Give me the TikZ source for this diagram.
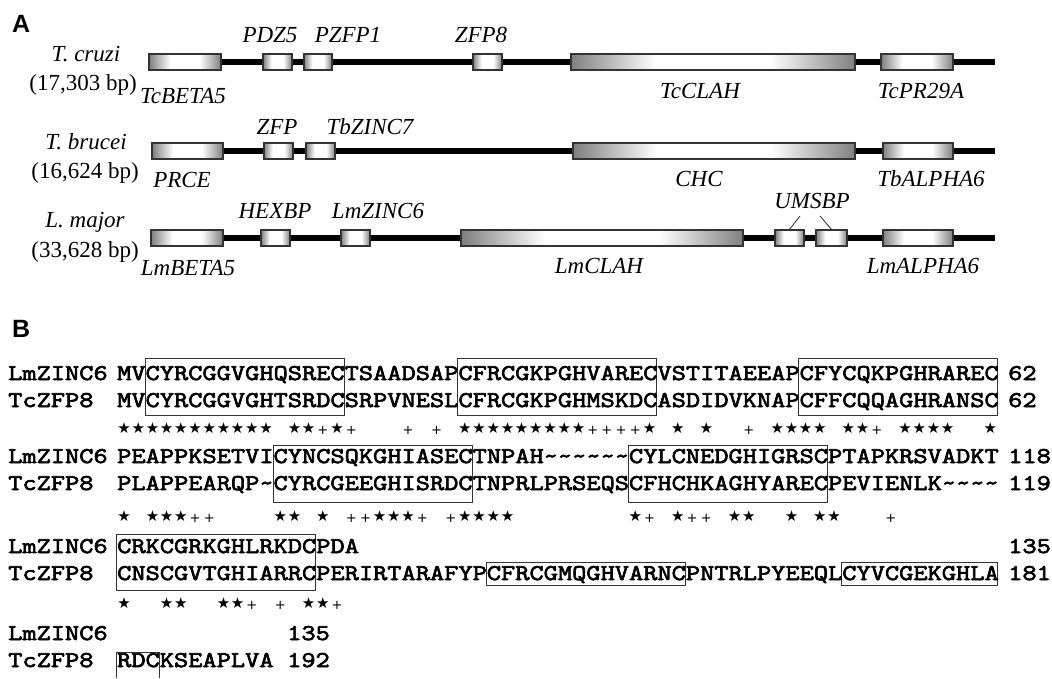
\documentclass[tikz,border=0pt]{standalone}
\usepackage{fontspec}
\setmainfont{Liberation Serif}
\newfontfamily\seqfont[FakeStretch=1.227,FakeBold=3]{Latin Modern Mono}
\newfontfamily\headfont{Liberation Sans}
\newfontfamily\symfont{DejaVu Sans}
\newcommand\tld{\textasciitilde}
\pgfdeclarehorizontalshading{genesh}{100bp}{color(0bp)=(black!50); color(25bp)=(black!50); color(40bp)=(white); color(60bp)=(white); color(75bp)=(black!50); color(100bp)=(black!50)}
\begin{document}
\begin{tikzpicture}[x=1pt,y=-1pt,
  gene/.style={draw=black!80, line width=1.1pt, shading=genesh, minimum height=16pt, inner sep=0pt},
  backbone/.style={line width=5.5pt, black},
  glabel/.style={font=\fontsize{23}{23}\selectfont\itshape, anchor=base, inner sep=0pt},
  orglabel/.style={font=\fontsize{23}{23}\selectfont, anchor=base, inner sep=0pt},
  seq/.style={font=\fontsize{22.5}{24}\seqfont, anchor=base west, inner sep=0pt},
  motif/.style={draw=black!80, line width=1pt},
  cons/.style={font=\fontsize{15}{15}\symfont, anchor=base, inner sep=0pt},
  plus/.style={font=\fontsize{13}{13}\symfont, anchor=base, inner sep=0pt},
  panel/.style={font=\fontsize{25}{25}\headfont\bfseries, anchor=base west, inner sep=0pt},
  tick/.style={draw=black!85, line width=0.8pt}
]
\useasboundingbox (0,0) rectangle (1052,678);
\fill[white] (0,0) rectangle (1052,678);

% ---------------- Panel A ----------------
\node[panel] (pA) at (12,32) {A};

% row 1: T. cruzi
\coordinate (r1s) at (149,62); \coordinate (r1e) at (995,62);
\draw[backbone] (r1s) -- (r1e);
\node[gene, minimum width=72pt] (tcbeta5) at (185,62) {};
\node[gene, minimum width=29pt] (pdz5) at (277.5,62) {};
\node[gene, minimum width=28pt] (pzfp1) at (318,62) {};
\node[gene, minimum width=29pt] (zfp8) at (487.5,62) {};
\node[gene, minimum width=284pt] (tcclah) at (713,62) {};
\node[gene, minimum width=72pt] (tcpr29a) at (917,62) {};
\node[glabel] (ltcruzi) at (86,61) {T. cruzi};
\node[orglabel] (ltcbp) at (83,90) {(17,303 bp)};
\node[glabel] (lpdz5) at (270,42) {PDZ5};
\node[glabel] (lpzfp1) at (348,42) {PZFP1};
\node[glabel] (lzfp8) at (481,42) {ZFP8};
\node[glabel] (ltcbeta5) at (183,103) {TcBETA5};
\node[glabel] (ltcclah) at (700,98) {TcCLAH};
\node[glabel] (ltcpr29a) at (921,98) {TcPR29A};

% row 2: T. brucei
\coordinate (r2s) at (152,151); \coordinate (r2e) at (995,151);
\draw[backbone] (r2s) -- (r2e);
\node[gene, minimum width=71pt] (prce) at (187.5,151) {};
\node[gene, minimum width=29pt] (zfp) at (278.5,151) {};
\node[gene, minimum width=29pt] (tbzinc7) at (320.5,151) {};
\node[gene, minimum width=282pt] (chc) at (714,151) {};
\node[gene, minimum width=70pt] (tbalpha6) at (918,151) {};
\node[glabel] (ltbrucei) at (86,149) {T. brucei};
\node[orglabel] (ltbbp) at (85,178) {(16,624 bp)};
\node[glabel] (lzfp) at (277,134) {ZFP};
\node[glabel] (ltbzinc7) at (370,134) {TbZINC7};
\node[glabel] (lprce) at (182,187) {PRCE};
\node[glabel] (lchc) at (699,186) {CHC};
\node[glabel] (ltbalpha6) at (931,186) {TbALPHA6};

% row 3: L. major
\coordinate (r3s) at (151,238); \coordinate (r3e) at (995,238);
\draw[backbone] (r3s) -- (r3e);
\node[gene, minimum width=72pt] (lmbeta5) at (187,238) {};
\node[gene, minimum width=29pt] (hexbp) at (275.5,238) {};
\node[gene, minimum width=29pt] (lmzinc6) at (355.5,238) {};
\node[gene, minimum width=282pt] (lmclah) at (602,238) {};
\node[gene, minimum width=29pt] (ums1) at (789.5,238) {};
\node[gene, minimum width=31pt] (ums2) at (831.5,238) {};
\node[gene, minimum width=70pt] (lmalpha6) at (918,238) {};
\node[glabel] (llmajor) at (85,227) {L. major};
\node[orglabel] (llmbp) at (85,257) {(33,628 bp)};
\node[glabel] (lhexbp) at (275,218) {HEXBP};
\node[glabel] (llmzinc6) at (378,218) {LmZINC6};
\node[glabel] (llmbeta5) at (188,275) {LmBETA5};
\node[glabel] (llmclah) at (599,273) {LmCLAH};
\node[glabel] (llmalpha6) at (923,273) {LmALPHA6};
\node[glabel] (lumsbp) at (812,208) {UMSBP};
\coordinate (u1) at (800,216); \coordinate (u2) at (820,216);
\draw[tick] (u1) -- (ums1.north);
\draw[tick] (u2) -- (ums2.north);

% ---------------- Panel B ----------------
\node[panel] (pB) at (12,337) {B};

% motif boxes (column i at x = 117 + 14.2 i)
\draw[motif] (145.4,358) rectangle (344.2,415);
\draw[motif] (457.8,358) rectangle (656.6,415);
\draw[motif] (798.6,358) rectangle (997.4,415);
\draw[motif] (273.2,445) rectangle (472.0,502);
\draw[motif] (628.2,445) rectangle (827.0,502);
\draw[motif] (116.0,534) rectangle (315.8,590);
\draw[motif] (486.2,562) rectangle (685.0,585);
\draw[motif] (841.2,562) rectangle (997.4,585);
\draw[motif] (116.0,678) -- (116.0,652) -- (159.6,652) -- (159.6,678);

% line 1
\node[seq] (n1a) at (8,380) {LmZINC6};
\node[seq] (n1b) at (8,407) {TcZFP8};
\node[seq] (s1a) at (117,380) {MVCYRCGGVGHQSRECTSAADSAPCFRCGKPGHVARECVSTITAEEAPCFYCQKPGHRAREC};
\node[seq] (s1b) at (117,407) {MVCYRCGGVGHTSRDCSRPVNESLCFRCGKPGHMSKDCASDIDVKNAPCFFCQQAGHRANSC};
\node[seq] (e1a) at (1008,380) {62};
\node[seq] (e1b) at (1008,407) {62};
\foreach \i in {0,...,10,12,13,15,24,25,26,27,28,29,30,31,32,37,39,41,46,47,48,49,51,52,55,56,57,58,61}
  \node[cons] (c1s\i) at ({117+14.2*(\i+0.5)},433) {★};
\foreach \i in {14,16,20,22,33,34,35,36,44,53}
  \node[plus] (c1p\i) at ({117+14.2*(\i+0.5)},434) {+};

% line 2
\node[seq] (n2a) at (8,463) {LmZINC6};
\node[seq] (n2b) at (8,490) {TcZFP8};
\node[seq] (s2a) at (117,463) {PEAPPKSETVICYNCSQKGHIASECTNPAH\tld\tld\tld\tld\tld\tld CYLCNEDGHIGRSCPTAPKRSVADKT};
\node[seq] (s2b) at (117,490) {PLAPPEARQP\tld CYRCGEEGHISRDCTNPRLPRSEQSCFHCHKAGHYARECPEVIENLK\tld\tld\tld\tld};
\node[seq] (e2a) at (1008,463) {118};
\node[seq] (e2b) at (1008,490) {119};
\foreach \i in {0,2,3,4,11,12,14,18,19,20,24,25,26,27,36,39,43,44,47,49,50}
  \node[cons] (c2s\i) at ({117+14.2*(\i+0.5)},521) {★};
\foreach \i in {5,6,16,17,21,23,37,40,41,54}
  \node[plus] (c2p\i) at ({117+14.2*(\i+0.5)},522) {+};

% line 3
\node[seq] (n3a) at (8,553) {LmZINC6};
\node[seq] (n3b) at (8,580) {TcZFP8};
\node[seq] (s3a) at (117,553) {CRKCGRKGHLRKDCPDA};
\node[seq] (s3b) at (117,580) {CNSCGVTGHIARRCPERIRTARAFYPCFRCGMQGHVARNCPNTRLPYEEQLCYVCGEKGHLA};
\node[seq] (e3a) at (1008,553) {135};
\node[seq] (e3b) at (1008,580) {181};
\foreach \i in {0,3,4,7,8,13,14}
  \node[cons] (c3s\i) at ({117+14.2*(\i+0.5)},608) {★};
\foreach \i in {9,11,15}
  \node[plus] (c3p\i) at ({117+14.2*(\i+0.5)},609) {+};

% line 4
\node[seq] (n4a) at (8,640) {LmZINC6};
\node[seq] (n4b) at (8,667) {TcZFP8};
\node[seq] (s4b) at (117,667) {RDCKSEAPLVA};
\node[seq] (e4a) at (287,640) {135};
\node[seq] (e4b) at (287,667) {192};
\end{tikzpicture}
\end{document}
